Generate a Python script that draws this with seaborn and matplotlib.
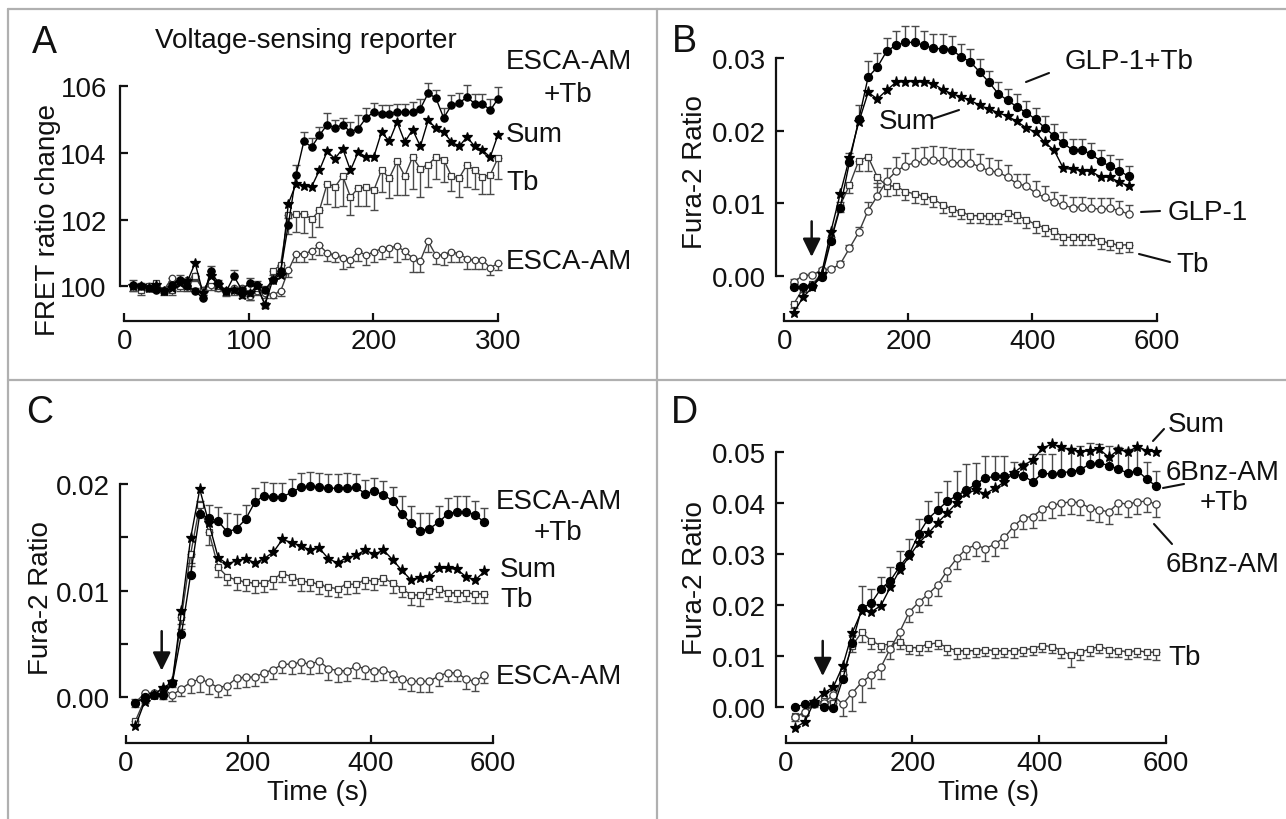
import numpy as np
import matplotlib
matplotlib.use("Agg")
import matplotlib.pyplot as plt
import seaborn as sns
from matplotlib.lines import Line2D

# ---------------- data ----------------
# Panel A: voltage-sensing reporter, FRET ratio change (sampling every ~6 s)
time_a = np.linspace(7, 300, 48)
a_combo = [100.05, 100.0, 99.95, 99.9, 99.85, 100.05, 100.2, 100.0, 99.85, 99.65,
           100.45, 100.1, 99.85, 100.3, 99.9, 100.1, 100.05, 99.9, 100.2, 100.45,
           101.85, 103.35, 104.35, 104.18, 104.53, 104.85, 104.75, 104.85, 104.63, 104.73,
           105.05, 105.23, 105.18, 105.18, 105.23, 105.23, 105.23, 105.33, 105.79, 105.65,
           105.05, 105.43, 105.5, 105.68, 105.48, 105.48, 105.28, 105.63]
a_combo_err = [0.15, 0.1, 0.1, 0.1, 0.1, 0.1, 0.15, 0.1, 0.1, 0.1,
               0.15, 0.1, 0.1, 0.2, 0.1, 0.15, 0.1, 0.1, 0.15, 0.2,
               0.2, 0.3, 0.28, 0.27, 0.25, 0.36, 0.25, 0.2, 0.3, 0.4,
               0.3, 0.28, 0.27, 0.27, 0.25, 0.25, 0.3, 0.3, 0.3, 0.25,
               0.3, 0.3, 0.3, 0.35, 0.3, 0.3, 0.35, 0.35]
a_sum = [100.0, 100.0, 99.95, 100.05, 99.85, 99.95, 100.1, 100.15, 100.7, 99.8,
         100.3, 100.05, 99.85, 99.9, 99.75, 99.8, 100.0, 99.45, 100.2, 100.35,
         102.48, 103.08, 103.0, 102.99, 103.48, 104.05, 103.83, 104.13, 103.48, 104.03,
         103.88, 103.88, 104.63, 104.35, 104.93, 104.33, 104.7, 104.2, 104.98, 104.75,
         104.63, 104.33, 104.2, 104.48, 104.2, 104.08, 103.88, 104.55]
a_tb = [100.0, 99.9, 100.0, 100.1, 99.85, 99.9, 100.0, 99.95, 100.3, 99.9,
        100.2, 100.0, 99.85, 99.9, 99.8, 99.8, 99.95, 99.45, 100.45, 100.65,
        102.13, 102.18, 102.18, 102.01, 102.28, 103.08, 102.98, 103.31, 102.68, 102.95,
        102.98, 102.88, 103.48, 103.25, 103.75, 103.31, 103.88, 103.53, 103.65, 103.88,
        103.8, 103.31, 103.25, 103.65, 103.48, 103.28, 103.35, 103.85]
a_tb_err = [0.15, 0.15, 0.1, 0.15, 0.1, 0.15, 0.15, 0.1, 0.15, 0.15,
            0.2, 0.1, 0.15, 0.15, 0.15, 0.2, 0.15, 0.1, 0.25, 0.3,
            0.55, 0.55, 0.57, 0.53, 0.5, 0.6, 0.6, 0.9, 0.53, 0.54,
            0.57, 0.6, 0.65, 0.6, 1.0, 0.58, 0.97, 0.85, 0.67, 0.67,
            0.66, 0.46, 0.57, 0.67, 0.55, 0.5, 0.57, 0.62]
a_esca = [100.0, 99.95, 100.0, 100.05, 99.9, 100.25, 100.1, 100.2, 100.3, 99.9,
          100.05, 99.95, 99.85, 99.95, 99.95, 99.7, 99.85, 99.8, 99.75, 99.85,
          100.48, 100.98, 100.98, 101.05, 101.23, 101.0, 100.93, 100.85, 100.8, 101.06,
          100.93, 101.03, 101.13, 101.16, 101.2, 101.05, 100.85, 100.77, 101.35, 100.93,
          100.95, 101.03, 100.98, 100.83, 100.78, 100.8, 100.55, 100.7]
a_esca_err = [0.15, 0.1, 0.1, 0.1, 0.1, 0.15, 0.1, 0.15, 0.1, 0.1,
              0.15, 0.1, 0.1, 0.1, 0.15, 0.1, 0.1, 0.15, 0.1, 0.15,
              0.2, 0.25, 0.25, 0.22, 0.3, 0.23, 0.2, 0.32, 0.22, 0.3,
              0.3, 0.3, 0.3, 0.28, 0.48, 0.22, 0.42, 0.34, 0.32, 0.25,
              0.32, 0.3, 0.25, 0.3, 0.25, 0.28, 0.2, 0.2]

# Panel B: GLP-1 / Tb, Fura-2 ratio (every 15 s)
time_b = np.arange(15, 556, 15)
b_combo = [-0.0015, -0.0016, -0.0014, -0.0002, 0.0048, 0.0094, 0.0157, 0.0216, 0.0274, 0.0288,
           0.031, 0.0318, 0.0322, 0.0322, 0.0318, 0.0314, 0.0313, 0.0312, 0.0302, 0.0295,
           0.0281, 0.0267, 0.0251, 0.0242, 0.0233, 0.0225, 0.0216, 0.0204, 0.0193, 0.0183,
           0.0173, 0.0173, 0.0168, 0.0158, 0.0151, 0.0145, 0.0137]
b_combo_err = [0.0003, 0.0003, 0.0003, 0.0004, 0.0006, 0.0008, 0.0012, 0.0019, 0.0022, 0.002,
               0.0018, 0.002, 0.0022, 0.0022, 0.002, 0.002, 0.002, 0.0019, 0.0018, 0.0018,
               0.0018, 0.0016, 0.0016, 0.0016, 0.0018, 0.0016, 0.0015, 0.0016, 0.0016, 0.0016,
               0.0016, 0.0016, 0.0015, 0.0015, 0.0016, 0.0016, 0.0014]
b_sum = [-0.0051, -0.003, -0.0016, 0.0003, 0.0061, 0.0113, 0.0163, 0.0212, 0.0253, 0.0244,
         0.0256, 0.0267, 0.0268, 0.0268, 0.0267, 0.0265, 0.0257, 0.0251, 0.0247, 0.0242,
         0.0235, 0.023, 0.0225, 0.022, 0.0213, 0.0204, 0.0198, 0.0184, 0.0173, 0.0148,
         0.0147, 0.0145, 0.0144, 0.0136, 0.0136, 0.0129, 0.0124]
b_glp = [-0.0008, 0.0, 0.0001, 0.0008, 0.0009, 0.0016, 0.0038, 0.006, 0.009, 0.011,
         0.0131, 0.0144, 0.0152, 0.0156, 0.0158, 0.016, 0.0158, 0.0156, 0.0156, 0.0156,
         0.015, 0.0145, 0.0143, 0.0136, 0.0127, 0.0124, 0.0114, 0.0108, 0.0102, 0.0097,
         0.0094, 0.0095, 0.0093, 0.0092, 0.0093, 0.009, 0.0085]
b_glp_err = [0.0003, 0.0003, 0.0003, 0.0003, 0.0003, 0.0004, 0.0005, 0.0007, 0.0012, 0.0018,
             0.0017, 0.002, 0.0018, 0.002, 0.002, 0.0019, 0.002, 0.002, 0.0019, 0.0019,
             0.0018, 0.0018, 0.0017, 0.0017, 0.0014, 0.0016, 0.0017, 0.0016, 0.0014, 0.0014,
             0.0015, 0.0014, 0.0014, 0.0015, 0.0014, 0.0013, 0.0013]
b_tb = [-0.0039, -0.0018, -0.0012, 0.0003, 0.0051, 0.0097, 0.0125, 0.0159, 0.0164, 0.0136,
        0.0124, 0.0124, 0.0116, 0.0113, 0.011, 0.0106, 0.0098, 0.0092, 0.0088, 0.0083,
        0.0083, 0.0082, 0.0083, 0.0086, 0.0084, 0.0077, 0.0071, 0.0066, 0.0062, 0.0053,
        0.0053, 0.0054, 0.0054, 0.0048, 0.0045, 0.0042, 0.0043]
b_tb_err = [0.0005, 0.0004, 0.0004, 0.0004, 0.0006, 0.0009, 0.0011, 0.0015, 0.002, 0.0014,
            0.0014, 0.0012, 0.0011, 0.0012, 0.0011, 0.0011, 0.0011, 0.001, 0.001, 0.001,
            0.001, 0.001, 0.0011, 0.0011, 0.0011, 0.0011, 0.0012, 0.0011, 0.0011, 0.001,
            0.001, 0.0011, 0.0011, 0.0011, 0.001, 0.001, 0.001]

# Panel C: ESCA-AM / Tb
time_c = np.arange(16, 587, 15)
c_combo = [-0.0005, 0.0, 0.0002, 0.0002, 0.0013, 0.0059, 0.0115, 0.0172, 0.0168, 0.0165,
           0.0155, 0.0158, 0.0167, 0.0183, 0.0189, 0.0188, 0.0188, 0.0192, 0.0197, 0.0198,
           0.0197, 0.0196, 0.0196, 0.0196, 0.0197, 0.0191, 0.0193, 0.019, 0.0184, 0.0172,
           0.0163, 0.0156, 0.0158, 0.0164, 0.0172, 0.0174, 0.0174, 0.0171, 0.0164]
c_combo_err = [0.0003, 0.0002, 0.0002, 0.0002, 0.0003, 0.0005, 0.0008, 0.0012, 0.0012, 0.0013,
               0.0018, 0.0014, 0.0013, 0.0013, 0.0013, 0.0013, 0.0013, 0.0013, 0.0013, 0.0013,
               0.0013, 0.0013, 0.0013, 0.0014, 0.0012, 0.0013, 0.0013, 0.0013, 0.0013, 0.0017,
               0.0016, 0.0017, 0.0015, 0.0015, 0.0015, 0.0015, 0.0015, 0.0013, 0.0013]
c_sum = [-0.0027, -0.0004, 0.0002, 0.0009, 0.0014, 0.0081, 0.0149, 0.0195, 0.0163, 0.0131,
         0.0125, 0.0128, 0.013, 0.0126, 0.013, 0.0136, 0.0148, 0.0145, 0.0142, 0.0138,
         0.014, 0.013, 0.0126, 0.0131, 0.0133, 0.0138, 0.0134, 0.0138, 0.0129, 0.0119,
         0.011, 0.0112, 0.0113, 0.0121, 0.0121, 0.012, 0.0113, 0.011, 0.0118]
c_tb = [-0.0022, -0.0002, 0.0002, 0.0001, 0.0013, 0.0075, 0.0134, 0.018, 0.0155, 0.0122,
        0.0113, 0.011, 0.0108, 0.0107, 0.0107, 0.0111, 0.0116, 0.0113, 0.0109, 0.0108,
        0.0106, 0.0103, 0.0102, 0.0106, 0.0106, 0.011, 0.0109, 0.0112, 0.0107, 0.0102,
        0.0096, 0.0096, 0.01, 0.0102, 0.0098, 0.0098, 0.0098, 0.0097, 0.0097]
c_tb_err = [0.0004, 0.0003, 0.0003, 0.0003, 0.0003, 0.0006, 0.0008, 0.001, 0.0012, 0.0009,
            0.0008, 0.0009, 0.0008, 0.0009, 0.0008, 0.0009, 0.0008, 0.0008, 0.0009, 0.0008,
            0.0009, 0.0008, 0.0008, 0.0009, 0.0008, 0.0008, 0.0008, 0.0007, 0.0009, 0.0008,
            0.0009, 0.001, 0.0008, 0.0008, 0.0008, 0.0009, 0.0008, 0.0009, 0.0009]
c_esca = [-0.0005, 0.0004, 0.0004, 0.0008, 0.0002, 0.0008, 0.0014, 0.0017, 0.0014, 0.0009,
          0.0011, 0.0018, 0.0019, 0.0019, 0.0023, 0.0026, 0.0031, 0.0031, 0.0033, 0.0031,
          0.0034, 0.0027, 0.0025, 0.0025, 0.0029, 0.0027, 0.0025, 0.0026, 0.0022, 0.0017,
          0.0015, 0.0015, 0.0015, 0.002, 0.0023, 0.0023, 0.0017, 0.0015, 0.0021]
c_esca_err = [0.0004, 0.0003, 0.0003, 0.0004, 0.0005, 0.0007, 0.001, 0.0012, 0.0011, 0.0009,
              0.0009, 0.0009, 0.0009, 0.0008, 0.0009, 0.0009, 0.0008, 0.0009, 0.001, 0.0009,
              0.0011, 0.0011, 0.0011, 0.001, 0.0011, 0.001, 0.001, 0.001, 0.0008, 0.0009,
              0.0009, 0.001, 0.001, 0.0009, 0.0008, 0.0008, 0.0009, 0.0009, 0.0008]

# Panel D: 6Bnz-AM / Tb
time_d = np.arange(15, 586, 15)
d_combo = [-0.0001, 0.0005, 0.0008, -0.0001, -0.0003, 0.0054, 0.0125, 0.0193, 0.0203, 0.0231,
           0.0247, 0.0275, 0.0299, 0.0339, 0.0369, 0.0386, 0.0403, 0.0414, 0.0424, 0.0437,
           0.0448, 0.0452, 0.0453, 0.0456, 0.0453, 0.0441, 0.0458, 0.0456, 0.0459, 0.0461,
           0.0465, 0.0476, 0.0478, 0.0473, 0.0466, 0.0458, 0.0463, 0.0446, 0.0432]
d_combo_err = [0.0003, 0.0003, 0.0003, 0.0003, 0.0004, 0.0008, 0.0015, 0.0044, 0.0028, 0.0023,
               0.0026, 0.0031, 0.0029, 0.0029, 0.0035, 0.0035, 0.004, 0.0049, 0.0052, 0.0041,
               0.0043, 0.0039, 0.0038, 0.0023, 0.0025, 0.0054, 0.0037, 0.0039, 0.0046, 0.0047,
               0.0046, 0.0042, 0.0038, 0.0039, 0.0044, 0.0047, 0.0042, 0.0034, 0.0031]
d_sum = [-0.0041, -0.003, 0.001, 0.0027, 0.0038, 0.008, 0.0145, 0.0188, 0.0186, 0.0198,
         0.0234, 0.0268, 0.0295, 0.0321, 0.034, 0.0361, 0.038, 0.04, 0.042, 0.0424,
         0.0418, 0.0428, 0.0441, 0.0459, 0.0473, 0.0484, 0.0507, 0.0515, 0.0509, 0.0504,
         0.05, 0.0502, 0.0505, 0.0489, 0.0504, 0.05, 0.051, 0.0502, 0.05]
d_bnz = [-0.0021, -0.0011, 0.0006, 0.0008, 0.0023, 0.0005, 0.0027, 0.0048, 0.0062, 0.0077,
         0.0114, 0.0147, 0.0186, 0.0205, 0.0221, 0.0239, 0.0267, 0.0291, 0.031, 0.0317,
         0.031, 0.0319, 0.0332, 0.0354, 0.0371, 0.0373, 0.0388, 0.0395, 0.0399, 0.0402,
         0.04, 0.0389, 0.0386, 0.0382, 0.04, 0.0397, 0.0402, 0.0403, 0.0397]
d_bnz_err = [0.0008, 0.0006, 0.0006, 0.0008, 0.0009, 0.0023, 0.0035, 0.0038, 0.0026, 0.0022,
             0.002, 0.0022, 0.002, 0.002, 0.0022, 0.0022, 0.002, 0.002, 0.002, 0.0022,
             0.0024, 0.0024, 0.002, 0.0022, 0.0022, 0.0023, 0.0022, 0.0024, 0.0024, 0.0024,
             0.0025, 0.0023, 0.0024, 0.0024, 0.0022, 0.0024, 0.0024, 0.0022, 0.0024]
d_tb = [-0.0018, -0.0012, 0.0007, 0.0011, 0.0008, 0.0064, 0.012, 0.0146, 0.0129, 0.012,
        0.0123, 0.0126, 0.0116, 0.0116, 0.0123, 0.0125, 0.0116, 0.011, 0.011, 0.011,
        0.0112, 0.011, 0.011, 0.011, 0.0112, 0.0114, 0.012, 0.0118, 0.011, 0.0101,
        0.0107, 0.0113, 0.0118, 0.0112, 0.011, 0.0108, 0.011, 0.0107, 0.0107]
d_tb_err = [0.0006, 0.0005, 0.0005, 0.0005, 0.0006, 0.0009, 0.0012, 0.002, 0.0015, 0.0013,
            0.0013, 0.0012, 0.0013, 0.0014, 0.0013, 0.0012, 0.0014, 0.0016, 0.0014, 0.0013,
            0.0013, 0.0014, 0.0013, 0.0014, 0.0013, 0.0012, 0.0013, 0.0012, 0.0014, 0.0024,
            0.0016, 0.0013, 0.0012, 0.0014, 0.0013, 0.0014, 0.0013, 0.0014, 0.0015]

# ---------------- styling ----------------
sns.set_style("ticks")
plt.rcParams['font.family'] = ['Liberation Sans', 'DejaVu Sans']
FS = 20

W, H = 1286, 820
fig = plt.figure(figsize=(W / 100, H / 100), dpi=100)
fig.patch.set_facecolor("white")

GREY = '#3c3c3c'
STYLES = {
    'combo': dict(marker='o', markerfacecolor='black', markeredgecolor='black', color='black', markersize=5.8),
    'sum': dict(marker='*', markerfacecolor='black', markeredgecolor='black', color='black', markersize=8.0),
    'tb': dict(marker='s', markerfacecolor='white', markeredgecolor=GREY, color=GREY, markersize=4.8),
    'single': dict(marker='o', markerfacecolor='white', markeredgecolor=GREY, color=GREY, markersize=5.2),
}


def px_axes(left, top, right, bottom):
    return fig.add_axes([left / W, 1 - bottom / H, (right - left) / W, (bottom - top) / H])


def draw(ax, t, y, kind, err=None, up=True, scale=1.0):
    st = dict(STYLES[kind])
    st['markersize'] = st['markersize'] * scale
    y = np.asarray(y, dtype=float)
    if err is not None:
        e = np.asarray(err, dtype=float)
        z = np.zeros_like(e)
        ax.errorbar(t, y, yerr=[z, e] if up else [e, z], fmt='none', ecolor='#4a4a4a',
                    elinewidth=1.0, capsize=2.6, capthick=1.0, zorder=2, clip_on=False)
    sns.lineplot(x=t, y=y, ax=ax, linewidth=1.0, markeredgewidth=0.9, zorder=3,
                 legend=False, clip_on=False, **st)


def frame(ax, xlim, ylim, xticks, yticks, ylabels, ypad=7.5, minor=None):
    ax.set_xlim(xlim)
    ax.set_ylim(ylim)
    ax.set_xticks(xticks)
    ax.set_yticks(yticks)
    ax.set_yticklabels(ylabels)
    if minor is not None:
        ax.set_yticks(minor, minor=True)
    sns.despine(ax=ax)
    ax.spines['left'].set_bounds(yticks[0], yticks[-1])
    ax.spines['bottom'].set_bounds(xticks[0], xticks[-1])
    for s in ('left', 'bottom'):
        ax.spines[s].set_linewidth(1.6)
        ax.spines[s].set_color('#111111')
    ax.tick_params(which='both', direction='in', length=6, width=1.6, color='#111111',
                   labelsize=FS, labelcolor='#111111')
    ax.tick_params(axis='y', pad=ypad)
    ax.tick_params(axis='x', pad=5)
    ax.set_facecolor('none')


def ftext(x, y, s, ha='left', size=FS, **kw):
    fig.text(x / W, 1 - y / H, s, ha=ha, va='center', fontsize=size, color='#111111', **kw)


def fline(x0, y0, x1, y1, color='#111111', lw=1.5):
    fig.add_artist(Line2D([x0 / W, x1 / W], [1 - y0 / H, 1 - y1 / H], color=color, lw=lw,
                          transform=fig.transFigure))


def arrow(ax, x, y0, y1):
    ax.annotate('', xy=(x, y1), xytext=(x, y0),
                arrowprops=dict(arrowstyle='-|>,head_length=0.55,head_width=0.27',
                                color='#111111', lw=1.8, mutation_scale=20,
                                shrinkA=0, shrinkB=0))


# panel borders
for seg in [(8, 10, W, 10), (8, 10, 8, H), (657, 10, 657, H), (8, 381, W, 381)]:
    fline(*seg, color='#b0b0b0', lw=1.6)

# ---- A ----
axA = px_axes(120, 80, 505, 322)
draw(axA, time_a, a_esca, 'single', a_esca_err, up=False, scale=0.9)
draw(axA, time_a, a_tb, 'tb', a_tb_err, up=False, scale=0.9)
draw(axA, time_a, a_sum, 'sum', scale=0.9)
draw(axA, time_a, a_combo, 'combo', a_combo_err, up=True, scale=0.9)
frame(axA, (-3.45, 305.6), (98.96, 106.22), [0, 100, 200, 300], [100, 102, 104, 106],
      ['100', '102', '104', '106'], ypad=9.5)

# ---- B ----
axB = px_axes(776, 25, 1165, 322)
draw(axB, time_b, b_tb, 'tb', b_tb_err, up=False)
draw(axB, time_b, b_glp, 'single', b_glp_err, up=True)
draw(axB, time_b, b_sum, 'sum')
draw(axB, time_b, b_combo, 'combo', b_combo_err, up=True)
frame(axB, (-13.5, 613.7), (-0.00625, 0.03474), [0, 200, 400, 600], [0, 0.01, 0.02, 0.03],
      ['0.00', '0.01', '0.02', '0.03'])
arrow(axB, 44, 0.0075, 0.0026)

# ---- C ----
axC = px_axes(120, 470, 500, 744)
draw(axC, time_c, c_esca, 'single', c_esca_err, up=False)
draw(axC, time_c, c_tb, 'tb', c_tb_err, up=False)
draw(axC, time_c, c_sum, 'sum')
draw(axC, time_c, c_combo, 'combo', c_combo_err, up=True)
frame(axC, (-9.3, 611.4), (-0.00428, 0.0214), [0, 200, 400, 600], [0, 0.01, 0.02],
      ['0.00', '0.01', '0.02'], minor=[0.005, 0.015])
arrow(axC, 58.8, 0.0062, 0.0025)

# ---- D ----
axD = px_axes(776, 440, 1172, 744)
draw(axD, time_d, d_tb, 'tb', d_tb_err, up=False)
draw(axD, time_d, d_bnz, 'single', d_bnz_err, up=False)
draw(axD, time_d, d_sum, 'sum')
draw(axD, time_d, d_combo, 'combo', d_combo_err, up=True)
frame(axD, (-15.3, 609.5), (-0.00712, 0.0525), [0, 200, 400, 600],
      [0, 0.01, 0.02, 0.03, 0.04, 0.05], ['0.00', '0.01', '0.02', '0.03', '0.04', '0.05'])
arrow(axD, 58.4, 0.0129, 0.006)

# ---------------- text ----------------
for letter, x, y in [('A', 44, 43), ('B', 684, 42), ('C', 40, 413), ('D', 684, 413)]:
    ftext(x, y, letter, ha='center', size=27)

ftext(306, 41, 'Voltage-sensing reporter', ha='center')
ftext(48, 220, 'FRET ratio change', ha='center', rotation=90)
ftext(695, 172, 'Fura-2 Ratio', ha='center', rotation=90)
ftext(41, 598, 'Fura-2 Ratio', ha='center', rotation=90)
ftext(695, 578, 'Fura-2 Ratio', ha='center', rotation=90)
ftext(318, 793, 'Time (s)', ha='center')
ftext(989, 793, 'Time (s)', ha='center')

# A labels
ftext(506, 62, 'ESCA-AM')
ftext(568, 95, '+Tb', ha='center')
ftext(506, 135, 'Sum')
ftext(506, 183, 'Tb')
ftext(506, 262, 'ESCA-AM')

# B labels
ftext(1065, 62, 'GLP-1+Tb')
fline(1026, 83, 1049, 74)
ftext(879, 122, 'Sum')
fline(932, 120, 959, 111)
ftext(1168, 213, 'GLP-1')
fline(1141, 213, 1160, 212)
ftext(1176, 265, 'Tb')
fline(1139, 255, 1170, 263)

# C labels
ftext(496, 502, 'ESCA-AM')
ftext(558, 533, '+Tb', ha='center')
ftext(500, 570, 'Sum')
ftext(500, 600, 'Tb')
ftext(496, 677, 'ESCA-AM')

# D labels
ftext(1168, 425, 'Sum')
fline(1153, 442, 1164, 430)
ftext(1166, 473, '6Bnz-AM')
ftext(1224, 503, '+Tb', ha='center')
fline(1163, 489, 1184, 485)
ftext(1166, 565, '6Bnz-AM')
fline(1154, 525, 1172, 545)
ftext(1168, 658, 'Tb')

fig.savefig('out.png', dpi=100, facecolor='white')
